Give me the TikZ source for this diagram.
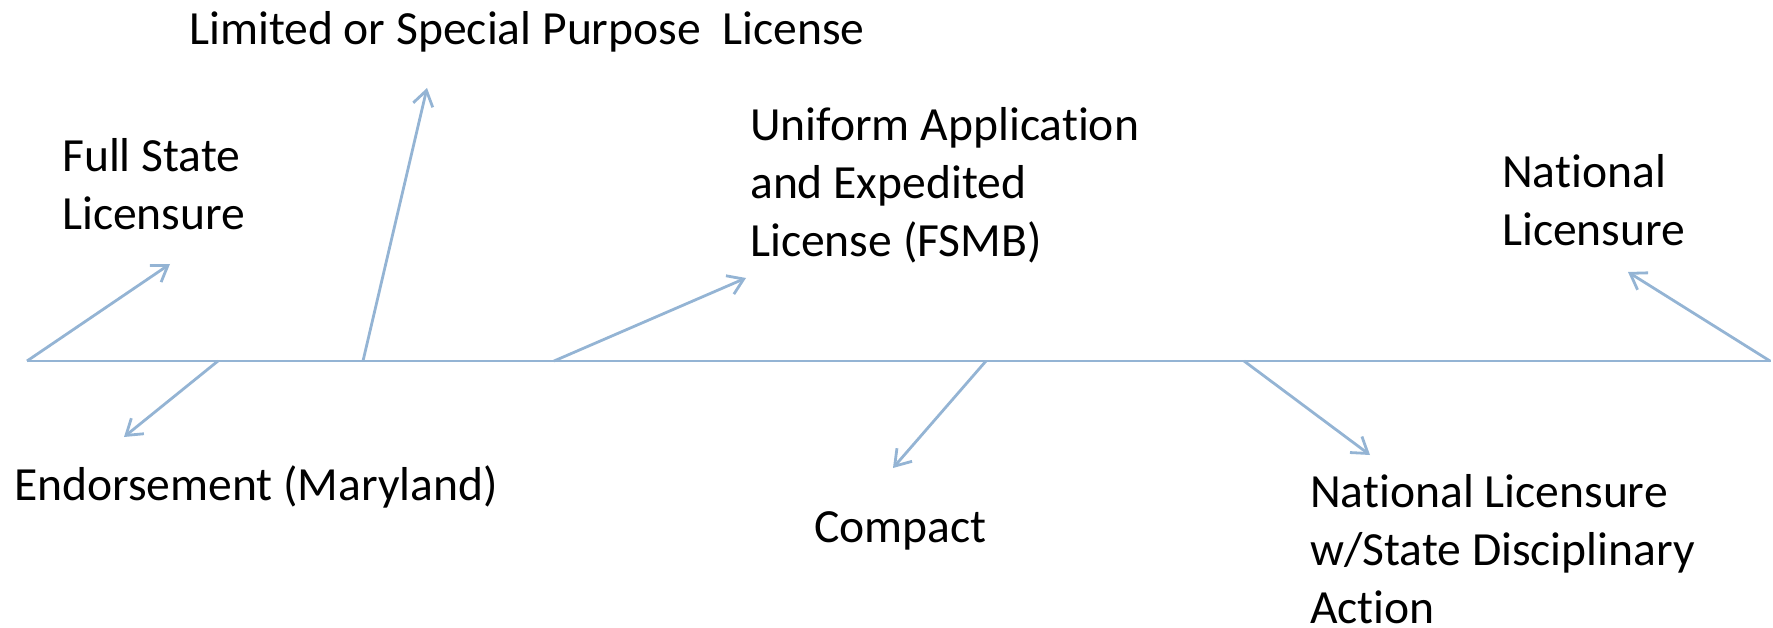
\documentclass[tikz,border=0pt]{standalone}
\usepackage{fontspec}
\setmainfont{Carlito}[Ligatures=NoCommon]
\usetikzlibrary{arrows.meta}
\definecolor{lineblue}{RGB}{148,180,212}

\begin{document}
\begin{tikzpicture}[x=1pt, y=-1pt, >={Straight Barb[length=15pt, width=20pt]},
          every node/.style={font=\fontsize{47.6}{58}\selectfont, align=left,
                             inner sep=0pt, anchor=base west},
          link/.style={draw=lineblue, line width=2.8pt, ->}]
        \useasboundingbox (0,0) rectangle (1773,628);
        % labels (base = baseline of the last line)
        \node (limited)  at (189,45)  {Limited or Special Purpose\ \ License};
        \node (full)     at (62,230)  {Full State\\Licensure};
        \node (endorse)  at (14,500)  {Endorsement (Maryland)};
        \node (uniform)  at (750,257) {Uniform Application\\and Expedited\\License (FSMB)};
        \node (compact)  at (814,542) {Compact};
        \node (national) at (1502,246) {National\\Licensure};
        \node (natdisc)  at (1310,623) {National Licensure\\w/State Disciplinary\\Action};
        % the line and where the arrows leave it
        \coordinate (lineL) at (27,361);
        \coordinate (lineR) at (1771,361);
        \coordinate (s1) at (27,361);
        \coordinate (s2) at (218,361);
        \coordinate (s3) at (363,361);
        \coordinate (s4) at (554,361);
        \coordinate (s5) at (986,361);
        \coordinate (s6) at (1244,361);
        \coordinate (s7) at (1770,361);
        % arrow tips
        \coordinate (t1) at (170,264);
        \coordinate (t2) at (124,437);
        \coordinate (t3) at (427,88);
        \coordinate (t4) at (746,278);
        \coordinate (t5) at (893,468);
        \coordinate (t6) at (1370,455);
        \coordinate (t7) at (1628,272);
        \draw[draw=lineblue, line width=2.8pt] (lineL) -- (lineR);
        \draw[link] (s1) -- (t1);
        \draw[link] (s2) -- (t2);
        \draw[link] (s3) -- (t3);
        \draw[link] (s4) -- (t4);
        \draw[link] (s5) -- (t5);
        \draw[link] (s6) -- (t6);
        \draw[link] (s7) -- (t7);
      \end{tikzpicture}
\end{document}
